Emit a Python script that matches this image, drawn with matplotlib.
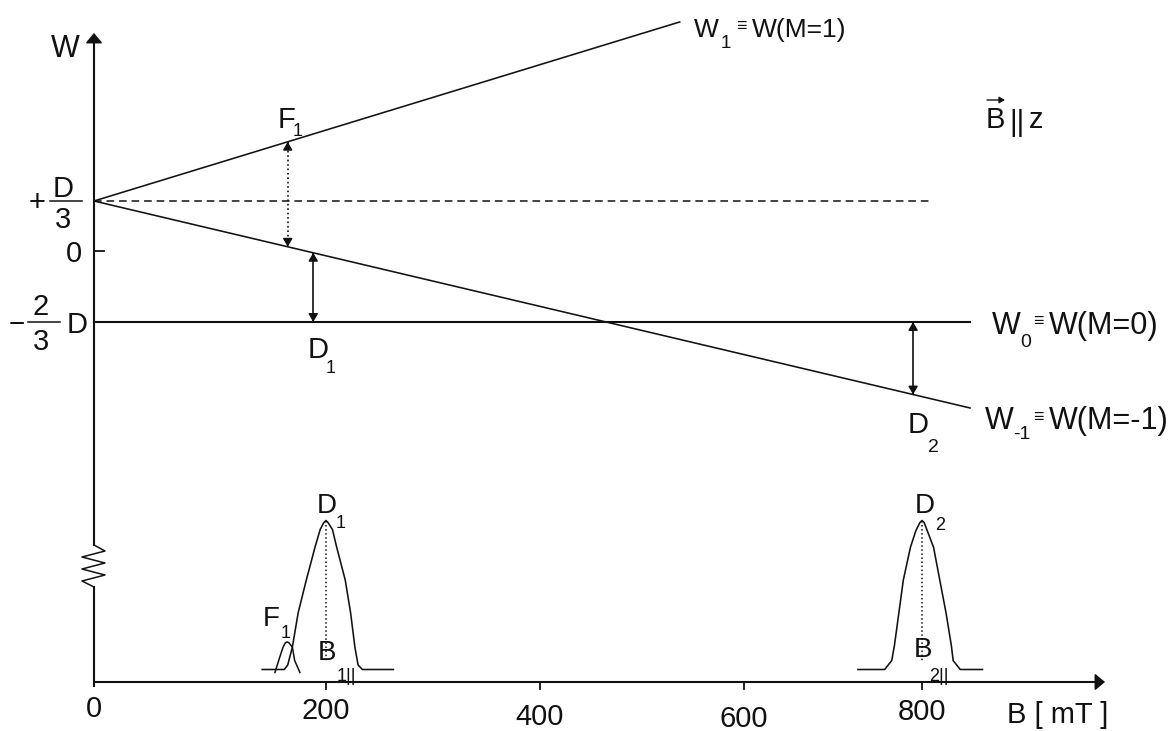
import numpy as np
import matplotlib
matplotlib.use("Agg")
import matplotlib.pyplot as plt
from matplotlib import transforms as mtrans
from matplotlib.patches import ArrowStyle

# ------------------------------------------------------------------ data
B_TICKS = [0, 200, 400, 600, 800]                 # mT
B_TICK_LABELS = ["0", "200", "400", "600", "800"]
W_LEVELS = [1 / 3, 0.0, -2 / 3]                   # in units of D

# energy-level lines (B in mT, W in units of D)
W1_B = [0, 537]
W1_W = [1 / 3, 1.527]
WM1_B = [0, 854]
WM1_W = [1 / 3, -1.474]
W0_B = [0, 854]
W0_W = [-2 / 3, -2 / 3]
ZFS_B = [0, 812]
ZFS_W = [1 / 3, 1 / 3]

# resonance field positions of the drawn transitions (mT)
F1_B = 167
D1_B = 189
D2_B = 790

# absorption spectrum (B in mT, relative intensity)
D1_SPEC_B = [145, 164, 167, 171, 176, 183, 190.5, 195, 198, 200, 202, 206,
             210, 218, 223, 227, 230, 234, 263]
D1_SPEC_I = [0, 0, 0.03, 0.15, 0.38, 0.60, 0.82, 0.94, 0.985, 1.0, 0.985,
             0.94, 0.82, 0.60, 0.38, 0.15, 0.03, 0, 0]
F1_SPEC_B = [156, 160, 163, 165, 166.5, 168, 171, 173, 177.5]
F1_SPEC_I = [-0.02, 0.08, 0.15, 0.18, 0.185, 0.18, 0.15, 0.06, -0.02]
D2_SPEC_B = [728, 758, 766, 769, 774, 779, 787, 793, 797.5, 800, 802.5, 806,
             813, 820, 827, 833, 835, 843, 868]
D2_SPEC_I = [0, 0, 0.06, 0.16, 0.38, 0.60, 0.82, 0.93, 0.985, 1.0, 0.985,
             0.93, 0.82, 0.60, 0.38, 0.16, 0.06, 0, 0]
PEAK_CENTERS = [200, 800]

# ------------------------------------------------------------------ layout
W_PX, H_PX = 1172, 731
TICK_PX = [94, 326, 540, 744, 922]          # where the (non-uniform) ticks sit
LEVEL_PX = [201, 251, 322]                  # image rows of the three levels
SPEC_BASE_PX, SPEC_PEAK_PX = 669.5, 520.5
INK = "#111111"
FONT = ["Liberation Sans", "DejaVu Sans"]
plt.rcParams["font.family"] = FONT


def _piecewise(vals, xs, ys):
    v = np.asarray(vals, dtype=float)
    out = np.interp(v, xs, ys)
    s0 = (ys[1] - ys[0]) / (xs[1] - xs[0])
    s1 = (ys[-1] - ys[-2]) / (xs[-1] - xs[-2])
    out = np.where(v < xs[0], ys[0] + (v - xs[0]) * s0, out)
    out = np.where(v > xs[-1], ys[-1] + (v - xs[-1]) * s1, out)
    return out


def fx(b):
    return _piecewise(b, B_TICKS, TICK_PX)


def fx_inv(p):
    return _piecewise(p, TICK_PX, B_TICKS)


_WCAL = sorted(W_LEVELS)
_YCAL = [H_PX - LEVEL_PX[2], H_PX - LEVEL_PX[1], H_PX - LEVEL_PX[0]]


def fy(w):
    return _piecewise(w, _WCAL, _YCAL)


def fy_inv(p):
    return _piecewise(p, _YCAL, _WCAL)


fig = plt.figure(figsize=(W_PX / 100, H_PX / 100), dpi=100)
fig.patch.set_facecolor("white")

ax = fig.add_axes([0, 0, 1, 1])
ax.set_xscale("function", functions=(fx, fx_inv))
ax.set_yscale("function", functions=(fy, fy_inv))
ax.set_xlim(float(fx_inv(0)), float(fx_inv(W_PX)))
ax.set_ylim(float(fy_inv(0)), float(fy_inv(H_PX)))
ax.set_axis_off()

sax = fig.add_axes([0, 0, 1, 1])
sax.set_xscale("function", functions=(fx, fx_inv))
sax.set_xlim(float(fx_inv(0)), float(fx_inv(W_PX)))
span = SPEC_BASE_PX - SPEC_PEAK_PX
sax.set_ylim((SPEC_BASE_PX - H_PX) / span, SPEC_BASE_PX / span)
sax.set_axis_off()
sax.patch.set_visible(False)

# image-pixel transform (y downwards) and blends
PX = mtrans.Affine2D().scale(1, -1).translate(0, H_PX)
BX = mtrans.blended_transform_factory(ax.transData, PX)   # x = B, y = pixel
YB = mtrans.blended_transform_factory(PX, ax.transData)   # x = pixel, y = W

HEAD = ArrowStyle("-|>", head_length=0.55, head_width=0.32)
AXHEAD = ArrowStyle("-|>", head_length=0.5, head_width=0.42)


def T(x, y, s, size=21, ha="center", va="baseline", trans=PX, **kw):
    ax.text(x, y, s, transform=trans, ha=ha, va=va, fontsize=size,
            color=INK, family=FONT, clip_on=False, **kw)


def w_on_line(bs, ws, b):
    P = ax.transData.transform(np.column_stack([bs, ws]))
    xd = ax.transData.transform([[b, ws[0]]])[0, 0]
    yd = np.interp(xd, P[:, 0], P[:, 1])
    return ax.transData.inverted().transform([[xd, yd]])[0, 1]


def head(xy, tail, coords, lw=1.0, style=HEAD, ms=9):
    ax.annotate("", xy=xy, xycoords=coords, xytext=tail, textcoords=coords,
                arrowprops=dict(arrowstyle=style, color=INK, lw=lw,
                                shrinkA=0, shrinkB=0, mutation_scale=ms),
                annotation_clip=False)


def double_arrow(b, w_top, w_bot, ls):
    ax.plot([b, b], [w_top, w_bot], color=INK, lw=1.2, ls=ls,
            solid_capstyle="butt")
    for w, dy in ((w_top, -7), (w_bot, 7)):
        ax.annotate("", xy=(b, w), xytext=(0, dy), textcoords="offset pixels",
                    arrowprops=dict(arrowstyle=HEAD, color=INK, lw=1.0,
                                    shrinkA=0, shrinkB=0, mutation_scale=9))


# ------------------------------------------------------------------ axes
x0 = float(fx(0))
ax.plot([0, 0], [686, 587], transform=BX, color=INK, lw=1.5, clip_on=False)
zz_y = [587, 581, 575, 569, 563, 557, 551, 545]
zz_dx = [0, -12, 11, -12, 11, -12, 11, 0]
ax.plot([x0 + d for d in zz_dx], zz_y, transform=PX, color=INK, lw=1.1,
        clip_on=False)
ax.plot([0, 0], [545, 40], transform=BX, color=INK, lw=1.5, clip_on=False)
head((0, 33), (0, 44), BX, lw=1.2, style=AXHEAD, ms=12)

ax.plot([x0, 1096], [682, 682], transform=PX, color=INK, lw=1.5,
        clip_on=False)
head((1105, 682), (1093, 682), PX, lw=1.2, style=AXHEAD, ms=12)

tick_base = [717, 719, 725, 727, 720]
for b, lab, yb in zip(B_TICKS, B_TICK_LABELS, tick_base):
    if b != 0:
        ax.plot([b, b], [682, 689], transform=BX, color=INK, lw=1.3,
                clip_on=False)
    T(b, yb, lab, size=21, trans=BX)
T(1007, 723, "B [ mT ]", size=21, ha="left")

# level tick at W = 0
ax.plot([x0, x0 + 10], [0, 0], transform=YB, color=INK, lw=1.3, clip_on=False)

# ------------------------------------------------------------------ levels
ax.plot(W1_B, W1_W, color=INK, lw=1.15)
ax.plot(WM1_B, WM1_W, color=INK, lw=1.15)
ax.plot(W0_B, W0_W, color=INK, lw=1.5)
ax.plot(ZFS_B, ZFS_W, color=INK, lw=1.1, dashes=(5, 3.2))

# transitions
w_top = w_on_line(W1_B, W1_W, F1_B)
w_bot = w_on_line(WM1_B, WM1_W, F1_B)
double_arrow(F1_B, w_top, w_bot, ":")
double_arrow(D1_B, w_on_line(WM1_B, WM1_W, D1_B), W0_W[0], "-")
double_arrow(D2_B, W0_W[0], w_on_line(WM1_B, WM1_W, D2_B), "-")

# ------------------------------------------------------------------ y labels
T(65, 57, "W", size=22)
T(37, 211, "+", size=21)
T(63, 197, "D", size=21)
ax.plot([50, 82], [201, 201], transform=PX, color=INK, lw=1.1, clip_on=False)
T(63, 228, "3", size=21)
T(74, 262, "0", size=21)
T(16.5, 332, "\u2212", size=20)
T(41, 315, "2", size=21)
ax.plot([28, 60], [322, 322], transform=PX, color=INK, lw=1.1, clip_on=False)
T(41, 350, "3", size=21)
T(77.5, 333, "D", size=21)

# transition labels
T(286, 128, "F", size=21)
T(298, 136, "1", size=13)
T(318, 358, "D", size=21)
T(331, 373, "1", size=13)
T(918, 433, "D", size=21)
T(933, 452, "2", size=14)

# level names
T(706.5, 37, "W", size=19)
T(726, 48, "1", size=13.5)
T(741, 31, "\u2261", size=13)
T(752, 37, "W(M=1)", size=19, ha="left")

T(1006, 334, "W", size=22)
T(1026, 347, "0", size=14)
T(1038, 326, "\u2261", size=13)
T(1049, 334, "W(M=0)", size=22, ha="left")

T(999, 429, "W", size=22)
T(1022, 439, "-1", size=14)
T(1038, 422, "\u2261", size=13)
T(1049, 429, "W(M=-1)", size=22, ha="left")

# B || z
T(995, 128, "B", size=21)
head((1005, 100), (987, 100), PX, lw=1.0, style=HEAD, ms=6)
T(1017, 131, "||", size=21)
T(1036, 128, "z", size=21)

# ------------------------------------------------------------------ spectrum
sax.plot(D1_SPEC_B, D1_SPEC_I, color=INK, lw=1.15)
sax.plot(F1_SPEC_B, F1_SPEC_I, color=INK, lw=1.1)
sax.plot(D2_SPEC_B, D2_SPEC_I, color=INK, lw=1.15)
for c in PEAK_CENTERS:
    sax.plot([c, c], [1.0, 0.05], color=INK, lw=1.1, ls=":")

T(327, 513, "D", size=20)
T(341, 528, "1", size=13)
T(271, 626, "F", size=20)
T(286, 638, "1", size=13)
T(327, 660, "B", size=20)
T(346, 681, "1||", size=13)
T(924.5, 513, "D", size=20)
T(940, 530, "2", size=13)
T(922.5, 657, "B", size=20)
T(939, 681, "2||", size=13)

fig.savefig("out.png", dpi=100, facecolor="white")
